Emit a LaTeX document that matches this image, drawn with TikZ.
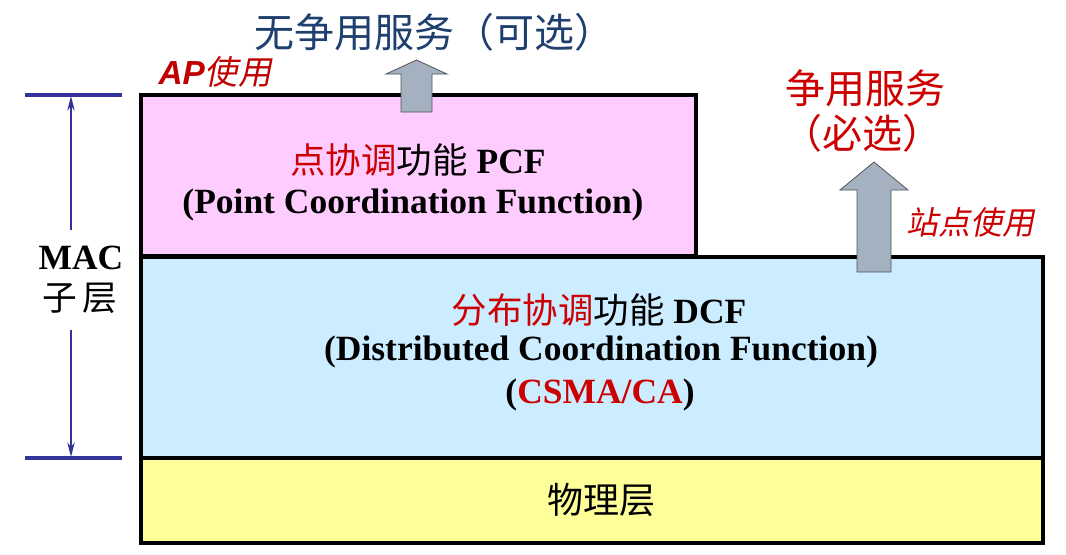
\documentclass[tikz,border=0pt]{standalone}
\usepackage{fontspec}
\setmainfont{Liberation Serif}
\newfontfamily\cjk{Noto Sans CJK SC}
\newfontfamily\cjkit[FakeSlant=0.2]{Noto Sans CJK SC}
\newfontfamily\arialf{Liberation Sans}
\usetikzlibrary{arrows.meta}
\definecolor{pinkfill}{HTML}{FFCCFF}
\definecolor{bluefill}{HTML}{CCECFF}
\definecolor{yelfill}{HTML}{FFFF99}
\definecolor{txtred}{HTML}{CC0000}
\definecolor{darkred}{HTML}{C00000}
\definecolor{txtblue}{HTML}{1F3F6F}
\definecolor{brblue}{HTML}{333399}
\definecolor{arrgray}{HTML}{A3B1C0}
\definecolor{arredge}{HTML}{555555}
\begin{document}
\begin{tikzpicture}[x=0.75pt,y=-0.75pt,
  layerbox/.style={draw=black,line width=3pt,inner sep=0pt,outer sep=0pt},
  bigtxt/.style={inner sep=0pt,font=\fontsize{26.6}{30}\selectfont\bfseries},
  cjktxt/.style={inner sep=0pt,font=\fontsize{30}{34}\selectfont\cjk},
  brline/.style={draw=brblue,line width=3pt},
  brarrow/.style={draw=brblue,line width=1.4pt,-{Stealth[length=11pt,width=5.5pt]}},
  blockarrow/.style={fill=arrgray,draw=arredge,line width=0.6pt}]
\useasboundingbox (0,0) rectangle (1066,554);
% layers
\node[layerbox,fill=pinkfill,minimum width=416.25pt,minimum height=120.75pt] (pcf) at (418.5,175.5) {};
\node[layerbox,fill=bluefill,minimum width=676.5pt,minimum height=150.75pt] (dcf) at (592,357.5) {};
\node[layerbox,fill=yelfill,minimum width=676.5pt,minimum height=63.75pt] (phy) at (592,500.5) {};
% block arrows
\draw[blockarrow] (401,112) -- (401,74) -- (386,74) -- (416.5,60) -- (447,74) -- (432,74) -- (432,112) -- cycle;
\draw[blockarrow] (857,272) -- (857,190) -- (840,190) -- (874,162) -- (908,190) -- (891,190) -- (891,272) -- cycle;
% texts
\node[cjktxt,text=txtblue] (free) at (434,32) {无争用服务（可选）};
\node[inner sep=0pt,text=darkred] (apuse) at (215,72) {{\fontsize{25}{28}\selectfont\arialf\bfseries\itshape AP}{\fontsize{25}{28}\selectfont\cjkit 使用}};
\node[cjktxt,text=txtred] (cont1) at (865,88) {争用服务};
\node[cjktxt,text=txtred] (cont2) at (862,133) {（必选）};
\node[inner sep=0pt,text=txtred,font=\fontsize{24}{28}\selectfont\cjkit] (sta) at (970,222) {站点使用};
\node[bigtxt] (pcft) at (418,160) {{\cjk\mdseries\color{txtred}点协调}{\cjk\mdseries 功能} PCF};
\node[bigtxt] (pcfe) at (413,205) {(Point Coordination Function)};
\node[bigtxt] (dcft) at (599,310) {{\cjk\mdseries\color{txtred}分布协调}{\cjk\mdseries 功能} DCF};
\node[bigtxt] (dcfe) at (601,352) {(Distributed Coordination Function)};
\node[bigtxt] (csma) at (600,395) {({\color{txtred}CSMA/CA})};
\node[inner sep=0pt,font=\fontsize{27}{30}\selectfont\cjk] (phyt) at (601,500) {物理层};
\node[bigtxt] (mac) at (81,258) {MAC};
\node[inner sep=0pt,font=\fontsize{26}{30}\selectfont\cjk] (sub) at (80,298) {子\,层};
% MAC bracket
\coordinate (bt1) at (25,95);
\coordinate (bt2) at (122,95);
\coordinate (bb1) at (25,458);
\coordinate (bb2) at (122,458);
\draw[brline] (bt1) -- (bt2);
\draw[brline] (bb1) -- (bb2);
\coordinate (ua) at (71,230);
\coordinate (ub) at (71,96);
\coordinate (da) at (71,330);
\coordinate (db) at (71,457);
\draw[brarrow] (ua) -- (ub);
\draw[brarrow] (da) -- (db);
\end{tikzpicture}
\end{document}
